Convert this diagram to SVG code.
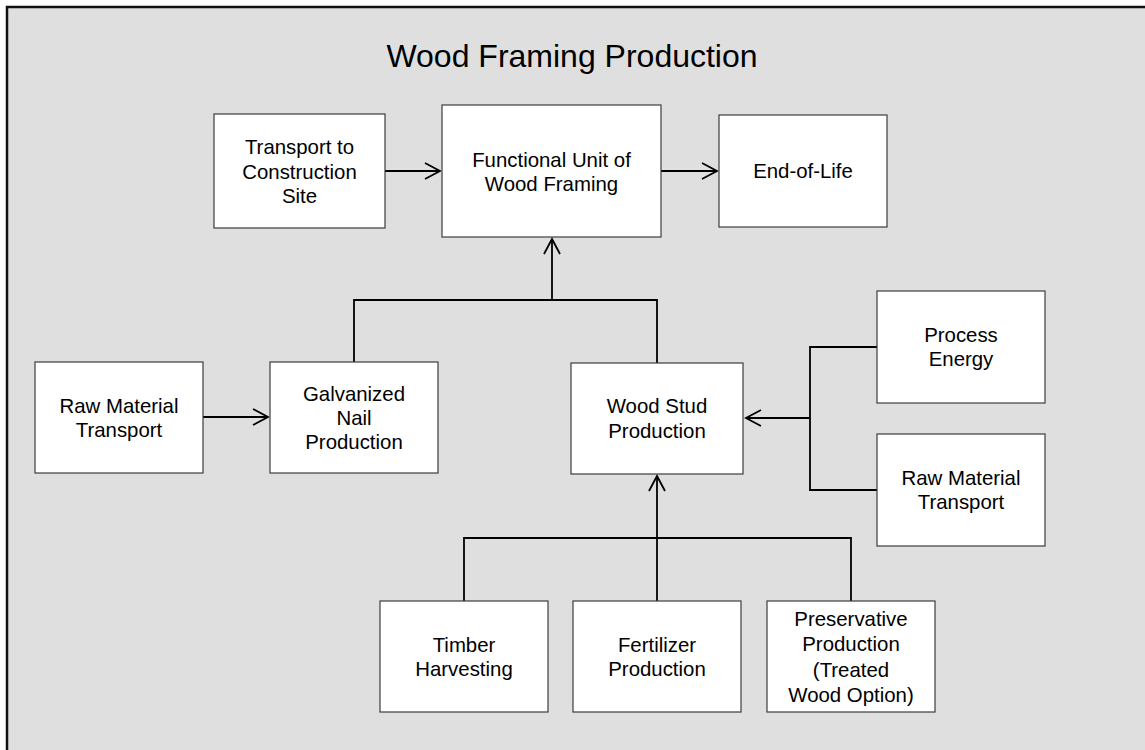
<svg xmlns="http://www.w3.org/2000/svg" width="1145" height="750" viewBox="0 0 1145 750">
  <defs>
    <style>
      .bg { fill: #dfdfdf; }
      .frame { stroke: #111; stroke-width: 2.5; fill: none; }
      .box { fill: #ffffff; stroke: #3c3c3c; stroke-width: 1.2; }
      .lbl { font-family: "Liberation Sans", Arial, sans-serif; font-size: 20.4px; fill: #000; text-anchor: middle; }
      .title { font-family: "Liberation Sans", Arial, sans-serif; font-size: 32px; fill: #000; text-anchor: middle; }
      .conn { fill: none; stroke: #000; stroke-width: 1.8; }
    </style>
    <marker id="arr" viewBox="-17 -10 19 20" markerWidth="19" markerHeight="20" refX="0" refY="0" orient="auto" markerUnits="userSpaceOnUse">
      <path d="M-15,-8 L0,0 L-15,8" fill="none" stroke="#000" stroke-width="1.8"/>
    </marker>
  </defs>

  <rect x="0" y="0" width="1145" height="750" fill="#ffffff"/>
  <rect class="bg" x="7" y="7" width="1138" height="743"/>
  <path class="frame" d="M7,750 V7 H1145"/>

  <text class="title" x="572" y="67">Wood Framing Production</text>

  <g id="connectors">
    <line class="conn" x1="385" y1="171" x2="440" y2="171" marker-end="url(#arr)"/>
    <line class="conn" x1="661" y1="171" x2="717" y2="171" marker-end="url(#arr)"/>
    <path class="conn" d="M354,362 V300 H657 V363"/>
    <line class="conn" x1="552" y1="300" x2="552" y2="239" marker-end="url(#arr)"/>
    <line class="conn" x1="203" y1="417" x2="268" y2="417" marker-end="url(#arr)"/>
    <path class="conn" d="M877,347 H810 V490 H877"/>
    <line class="conn" x1="810" y1="418" x2="746" y2="418" marker-end="url(#arr)"/>
    <path class="conn" d="M464,601 V538 H851 V601"/>
    <line class="conn" x1="657" y1="601" x2="657" y2="476" marker-end="url(#arr)"/>
  </g>

  <g id="transport-site">
    <rect class="box" x="214" y="114" width="171" height="114"/>
    <text class="lbl" x="299.5" y="154">Transport to</text>
    <text class="lbl" x="299.5" y="179">Construction</text>
    <text class="lbl" x="299.5" y="203">Site</text>
  </g>

  <g id="functional-unit">
    <rect class="box" x="442" y="105" width="219" height="132"/>
    <text class="lbl" x="551.5" y="167">Functional Unit of</text>
    <text class="lbl" x="551.5" y="191">Wood Framing</text>
  </g>

  <g id="end-of-life">
    <rect class="box" x="719" y="115" width="168" height="112"/>
    <text class="lbl" x="803" y="178">End-of-Life</text>
  </g>

  <g id="raw-material-left">
    <rect class="box" x="35" y="362" width="168" height="111"/>
    <text class="lbl" x="119" y="413">Raw Material</text>
    <text class="lbl" x="119" y="437">Transport</text>
  </g>

  <g id="galvanized-nail">
    <rect class="box" x="270" y="362" width="168" height="111"/>
    <text class="lbl" x="354" y="401">Galvanized</text>
    <text class="lbl" x="354" y="425">Nail</text>
    <text class="lbl" x="354" y="449">Production</text>
  </g>

  <g id="wood-stud">
    <rect class="box" x="571" y="363" width="172" height="111"/>
    <text class="lbl" x="657" y="413">Wood Stud</text>
    <text class="lbl" x="657" y="438">Production</text>
  </g>

  <g id="process-energy">
    <rect class="box" x="877" y="291" width="168" height="112"/>
    <text class="lbl" x="961" y="342">Process</text>
    <text class="lbl" x="961" y="366">Energy</text>
  </g>

  <g id="raw-material-right">
    <rect class="box" x="877" y="434" width="168" height="112"/>
    <text class="lbl" x="961" y="485">Raw Material</text>
    <text class="lbl" x="961" y="509">Transport</text>
  </g>

  <g id="timber">
    <rect class="box" x="380" y="601" width="168" height="111"/>
    <text class="lbl" x="464" y="652">Timber</text>
    <text class="lbl" x="464" y="676">Harvesting</text>
  </g>

  <g id="fertilizer">
    <rect class="box" x="573" y="601" width="168" height="111"/>
    <text class="lbl" x="657" y="652">Fertilizer</text>
    <text class="lbl" x="657" y="676">Production</text>
  </g>

  <g id="preservative">
    <rect class="box" x="767" y="601" width="168" height="111"/>
    <text class="lbl" x="851" y="626">Preservative</text>
    <text class="lbl" x="851" y="651">Production</text>
    <text class="lbl" x="851" y="677">(Treated</text>
    <text class="lbl" x="851" y="702">Wood Option)</text>
  </g>
</svg>
